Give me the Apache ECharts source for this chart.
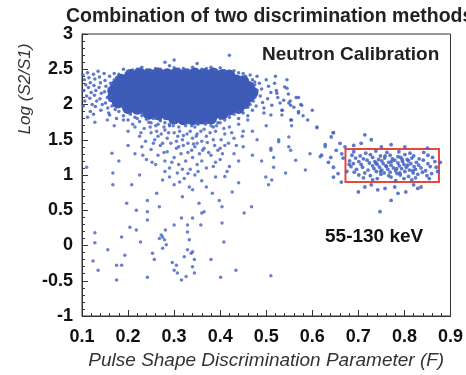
<!DOCTYPE html>
<html>
<head>
<meta charset="utf-8">
<script src="https://cdn.jsdelivr.net/npm/echarts@6/dist/echarts.min.js"></script>
<style>html,body{margin:0;padding:0;background:#fff}#c{width:466px;height:375px}</style>
</head>
<body>
<div id="c"></div>
<script>
const xTicks = [0.1,0.2,0.3,0.4,0.5,0.6,0.7,0.8,0.9];
const yTicks = [-1,-0.5,0,0.5,1,1.5,2,2.5,3];
const signalBox = [0.672, 0.9, 0.875, 1.37];

// dense electron-recoil core (solid region)
const coreCloud = [
[0.205,2.42],[0.225,2.44],[0.245,2.43],[0.265,2.44],[0.285,2.43],[0.305,2.44],[0.325,2.43],[0.345,2.44],[0.365,2.43],[0.385,2.44],[0.405,2.42],[0.42,2.41],
[0.185,2.35],[0.2,2.36],[0.215,2.35],[0.235,2.35],[0.255,2.36],[0.275,2.35],[0.295,2.35],[0.315,2.36],[0.335,2.35],[0.355,2.35],[0.375,2.36],[0.395,2.35],[0.415,2.35],[0.435,2.34],[0.45,2.33],
[0.175,2.27],[0.19,2.26],[0.21,2.26],[0.23,2.27],[0.25,2.26],[0.27,2.26],[0.29,2.27],[0.31,2.26],[0.33,2.26],[0.35,2.27],[0.37,2.26],[0.39,2.26],[0.41,2.27],[0.43,2.26],[0.45,2.26],[0.462,2.25],
[0.168,2.19],[0.18,2.18],[0.2,2.18],[0.22,2.19],[0.24,2.18],[0.26,2.18],[0.28,2.19],[0.3,2.18],[0.32,2.18],[0.34,2.19],[0.36,2.18],[0.38,2.18],[0.4,2.19],[0.42,2.18],[0.44,2.18],[0.458,2.18],[0.47,2.17],
[0.168,2.11],[0.185,2.1],[0.205,2.1],[0.225,2.11],[0.245,2.1],[0.265,2.1],[0.285,2.11],[0.305,2.1],[0.325,2.1],[0.345,2.11],[0.365,2.1],[0.385,2.1],[0.405,2.11],[0.425,2.1],[0.445,2.1],[0.462,2.11],
[0.178,2.03],[0.195,2.02],[0.215,2.02],[0.235,2.03],[0.255,2.02],[0.275,2.02],[0.295,2.03],[0.315,2.02],[0.335,2.02],[0.355,2.03],[0.375,2.02],[0.395,2.02],[0.415,2.03],[0.435,2.02],[0.452,2.02],
[0.2,1.95],[0.22,1.94],[0.24,1.94],[0.26,1.95],[0.28,1.94],[0.3,1.94],[0.32,1.95],[0.34,1.94],[0.36,1.94],[0.38,1.95],[0.4,1.94],[0.42,1.93],[0.44,1.95],
[0.245,1.87],[0.265,1.86],[0.285,1.86],[0.305,1.87],[0.325,1.86],[0.345,1.86],[0.365,1.87],[0.385,1.86],[0.405,1.87],
[0.3,1.8],[0.32,1.79],[0.34,1.79],[0.36,1.8],[0.38,1.8]
];

// sparse events around the core
const coreFringe = [
[0.102,2.42],[0.105,2.35],[0.108,2.28],[0.104,2.2],[0.11,2.12],[0.106,2.05],[0.112,2.45],[0.115,2.38],[0.118,2.31],[0.114,2.24],[0.12,2.17],[0.117,2.09],[0.122,2.0],
[0.125,2.43],[0.128,2.36],[0.126,2.27],[0.13,2.2],[0.127,2.13],[0.132,2.05],[0.129,1.97],[0.135,2.47],[0.138,2.39],[0.14,2.31],[0.137,2.24],[0.142,2.16],[0.139,2.08],
[0.144,2.0],[0.141,1.92],[0.148,2.44],[0.15,2.34],[0.152,2.26],[0.149,2.18],[0.155,2.1],[0.151,2.02],[0.156,1.95],[0.158,1.88],[0.16,2.4],[0.162,2.3],[0.159,2.22],
[0.163,2.14],[0.161,2.06],[0.165,1.98],[0.118,1.9],[0.112,1.82],[0.125,1.86],[0.103,1.98],[0.17,2.44],[0.175,2.38],[0.172,1.93],
[0.19,2.5],[0.23,2.53],[0.26,2.51],[0.29,2.55],[0.31,2.5],[0.34,2.53],[0.37,2.51],[0.4,2.52],[0.43,2.48],[0.28,2.6],[0.35,2.58],[0.45,2.44],[0.21,2.49],[0.33,2.49],
[0.3,2.63],[0.42,2.7],[0.25,2.48],[0.39,2.49],
[0.2,2.47],[0.22,2.5],[0.24,2.49],[0.27,2.5],[0.3,2.52],[0.32,2.51],[0.36,2.5],[0.38,2.53],[0.41,2.48],[0.44,2.45],[0.455,2.4],[0.18,2.43],[0.17,2.35],[0.165,2.28],
[0.19,1.96],[0.2,1.9],[0.23,1.88],[0.26,1.82],[0.28,1.8],[0.3,1.75],[0.33,1.74],[0.35,1.73],[0.37,1.74],[0.4,1.8],[0.42,1.86],[0.44,1.9],[0.46,1.96],[0.475,2.1],[0.48,2.2],[0.475,2.32],
[0.465,2.42],[0.47,2.35],[0.475,2.28],[0.472,2.05],[0.478,1.98],[0.48,2.4],[0.485,2.3],[0.49,2.22],[0.487,2.12],[0.492,2.03],[0.495,1.95],[0.5,2.35],[0.505,2.26],
[0.51,2.17],[0.503,2.08],[0.512,1.99],[0.518,2.3],[0.522,2.2],[0.525,2.1],[0.53,2.02],[0.535,1.92],[0.54,2.25],[0.548,2.15],[0.552,2.05],[0.56,1.96],[0.57,1.88],
[0.565,2.1],[0.58,1.84],[0.59,1.78],[0.61,1.68],[0.52,2.4],[0.545,2.35],[0.575,2.0],[0.6,1.92],[0.495,1.88],[0.51,1.85],[0.538,2.06],[0.553,1.99],[0.577,1.99],
[0.553,1.78],[0.57,1.9],[0.523,2.16],[0.545,2.23],[0.57,2.1],[0.549,2.02],[0.534,1.92],[0.555,1.78],
[0.16,1.85],[0.175,1.8],[0.18,1.9],[0.19,1.84],[0.2,1.78],[0.205,1.86],[0.215,1.82],[0.225,1.76],[0.23,1.84],[0.24,1.79],[0.25,1.74],[0.255,1.8],[0.265,1.72],
[0.27,1.77],[0.28,1.74],[0.29,1.7],[0.41,1.78],[0.42,1.82],[0.43,1.86],[0.44,1.8],[0.45,1.88],[0.46,1.84],[0.47,1.92],[0.395,1.74],[0.385,1.68],[0.455,1.96],[0.465,2.0]
];

// tail of events below the core
const tailEvents = [
[0.19,1.78],[0.21,1.72],[0.22,1.8],[0.235,1.66],[0.245,1.75],[0.25,1.6],[0.26,1.7],[0.265,1.55],[0.27,1.78],[0.28,1.64],[0.285,1.52],[0.29,1.72],[0.3,1.6],
[0.305,1.48],[0.31,1.68],[0.32,1.56],[0.325,1.7],[0.33,1.45],[0.335,1.62],[0.34,1.52],[0.345,1.68],[0.35,1.58],[0.36,1.48],[0.365,1.65],[0.37,1.55],[0.38,1.7],
[0.385,1.5],[0.39,1.62],[0.4,1.74],[0.41,1.58],[0.42,1.68],[0.43,1.52],[0.44,1.72],[0.45,1.62],[0.46,1.78],[0.2,1.62],[0.17,1.7],[0.155,1.78],[0.225,1.55],[0.275,1.45],
[0.215,1.68],[0.228,1.6],[0.238,1.48],[0.248,1.68],[0.258,1.5],[0.262,1.62],[0.272,1.58],[0.278,1.68],[0.288,1.6],[0.293,1.45],[0.298,1.7],[0.308,1.55],[0.312,1.62],
[0.318,1.5],[0.322,1.76],[0.328,1.58],[0.338,1.7],[0.342,1.44],[0.348,1.55],[0.352,1.72],[0.358,1.62],[0.362,1.35],[0.368,1.72],[0.372,1.46],[0.378,1.6],[0.388,1.42],
[0.392,1.7],[0.402,1.5],[0.408,1.66],[0.418,1.45],[0.425,1.6],[0.435,1.42],[0.448,1.55],[0.232,1.28],[0.252,1.18],[0.278,1.32],[0.295,1.18],[0.318,1.08],[0.338,1.35],
[0.352,1.05],[0.375,1.32],[0.385,1.12],[0.405,1.3],[0.415,1.05],[0.255,1.45],[0.31,1.4],[0.35,1.45],[0.4,1.38],
[0.2,1.42],[0.215,1.3],[0.23,1.4],[0.24,1.22],[0.25,1.36],[0.26,1.15],[0.265,1.28],[0.27,1.42],[0.28,1.2],[0.285,1.33],[0.29,1.1],[0.3,1.25],[0.305,1.38],[0.31,1.15],
[0.315,1.3],[0.32,1.42],[0.325,1.2],[0.33,1.32],[0.335,1.08],[0.34,1.25],[0.345,1.4],[0.35,1.15],[0.355,1.3],[0.36,1.2],[0.365,1.38],[0.37,1.1],[0.38,1.28],[0.39,1.18],
[0.395,1.35],[0.4,1.22],[0.41,1.42],[0.42,1.12],[0.43,1.3],[0.44,1.2],[0.45,1.4],[0.47,1.28],[0.165,1.31],[0.128,1.75],[0.11,1.11],[0.18,1.2],
[0.167,1.03],[0.167,0.86],[0.208,0.86],[0.225,1.0],[0.197,0.6],[0.242,0.64],[0.262,0.74],[0.268,0.55],[0.29,0.97],[0.3,0.86],[0.307,1.03],[0.318,0.69],[0.333,0.83],
[0.34,0.79],[0.354,0.6],[0.36,0.46],[0.37,0.83],[0.383,0.74],[0.39,0.97],[0.398,0.64],[0.404,0.55],[0.426,0.76],[0.44,0.89],[0.452,0.46],[0.468,0.55],[0.505,0.86],
[0.322,0.95],[0.345,1.0],[0.312,0.9],[0.36,0.92],[0.33,1.02],[0.275,0.93],[0.41,0.98],[0.28,1.05],
[0.128,0.18],[0.128,0.04],[0.156,-0.06],[0.124,-0.22],[0.135,-0.35],[0.175,-0.28],[0.186,-0.28],[0.175,-0.49],[0.193,-0.14],[0.186,0.12],[0.204,0.26],[0.218,0.22],
[0.227,0.05],[0.242,0.36],[0.242,-0.45],[0.253,-0.11],[0.257,-0.2],[0.268,0.1],[0.272,0.15],[0.275,0.12],[0.279,0.08],[0.283,0.01],[0.281,0.22],[0.275,-0.04],
[0.296,-0.24],[0.3,-0.35],[0.305,-0.28],[0.307,-0.39],[0.316,-0.49],[0.326,-0.44],[0.322,-0.16],[0.329,-0.06],[0.333,0.08],[0.337,-0.11],[0.34,-0.09],[0.344,-0.2],
[0.34,-0.3],[0.344,-0.39],[0.329,0.19],[0.34,0.39],[0.329,0.29],[0.3,0.29],[0.316,0.39],[0.358,0.29],[0.365,0.48],[0.38,-0.2],[0.401,-0.45],[0.404,0.32],[0.408,0.05],
[0.434,-0.35],[0.51,-0.43],[0.242,0.48],[0.218,0.5]
];

// events between the two populations
const gapEvents = [
[0.51,1.38],[0.527,1.47],[0.549,1.54],[0.564,1.21],[0.585,1.07],[0.61,1.67],[0.549,1.4],[0.516,1.11],[0.542,1.03],[0.499,0.97],[0.555,1.7],[0.534,1.85],
[0.51,1.35],[0.516,1.25],[0.527,1.5],[0.553,1.35],[0.512,0.93],[0.645,1.6],[0.617,1.26],[0.628,1.4],[0.48,1.5],[0.49,1.2],[0.47,1.62],[0.5,1.7],[0.595,1.3]
];

// neutron-calibration nuclear recoils
const neutronEvents = [
[0.628,1.43],[0.641,1.54],[0.62,1.28],[0.635,1.18],[0.646,1.11],[0.652,1.35],[0.656,1.02],[0.663,0.9],[0.66,1.45],[0.667,1.24],[0.646,0.97],[0.671,1.4],
[0.706,1.45],[0.728,1.5],[0.771,1.43],[0.801,1.4],[0.714,1.57],[0.646,1.6],[0.714,0.83],[0.742,0.79],[0.758,0.81],[0.771,0.64],[0.786,0.74],[0.803,0.76],
[0.829,0.81],[0.836,0.83],[0.728,0.86],[0.779,0.83],[0.7,0.76],[0.747,0.48],[0.68,1.15],[0.675,1.05],[0.664,1.3],[0.64,1.25],[0.85,1.38],[0.872,1.05],
[0.878,1.18],[0.69,1.42],[0.75,1.4],[0.82,0.86],
[0.69,1.33],[0.716,1.31],[0.738,1.34],[0.762,1.32],[0.788,1.33],[0.812,1.31],[0.842,1.32],
[0.686,1.28],[0.704,1.27],[0.726,1.29],[0.748,1.27],[0.769,1.28],[0.786,1.26],[0.801,1.29],[0.82,1.27],[0.851,1.28],
[0.694,1.24],[0.711,1.23],[0.731,1.25],[0.744,1.22],[0.757,1.24],[0.774,1.23],[0.792,1.25],[0.806,1.22],[0.816,1.24],[0.832,1.23],[0.861,1.25],
[0.681,1.2],[0.701,1.19],[0.719,1.21],[0.736,1.19],[0.751,1.2],[0.766,1.18],[0.779,1.21],[0.796,1.19],[0.809,1.2],[0.826,1.18],[0.841,1.21],[0.866,1.19],
[0.689,1.16],[0.706,1.15],[0.724,1.17],[0.741,1.15],[0.754,1.16],[0.771,1.14],[0.786,1.17],[0.799,1.15],[0.814,1.16],[0.831,1.14],[0.851,1.16],
[0.684,1.12],[0.709,1.11],[0.731,1.13],[0.746,1.11],[0.761,1.12],[0.776,1.1],[0.789,1.13],[0.804,1.11],[0.821,1.12],[0.836,1.1],[0.856,1.12],[0.869,1.11],
[0.696,1.08],[0.721,1.07],[0.734,1.09],[0.751,1.07],[0.764,1.08],[0.781,1.06],[0.794,1.09],[0.811,1.07],[0.824,1.08],[0.846,1.06],
[0.691,1.04],[0.714,1.03],[0.739,1.05],[0.756,1.03],[0.769,1.04],[0.784,1.02],[0.801,1.05],[0.819,1.03],[0.839,1.04],[0.859,1.02],
[0.701,1.0],[0.726,0.99],[0.749,1.01],[0.766,0.99],[0.791,1.0],[0.809,0.98],[0.829,1.01],[0.849,0.99],
[0.711,0.96],[0.741,0.95],[0.771,0.97],[0.799,0.95],[0.824,0.96],[0.854,0.95],
[0.731,0.93],[0.781,0.92],[0.816,0.93],
[0.76,1.13],[0.772,1.19],[0.783,1.09],[0.795,1.22],[0.807,1.14],[0.748,1.05],[0.738,1.17],[0.818,1.06],[0.758,1.27],[0.79,1.03]
];

const FONT = 'Liberation Sans, Arial, Helvetica, sans-serif';
const dotColor = '#4262c2';

const chart = echarts.init(document.getElementById('c'), null, {renderer: 'canvas'});
chart.setOption({
  animation: false,
  backgroundColor: '#fff',
  title: {
    text: 'Combination of two discrimination methods',
    left: 61, top: 2,
    textStyle: {fontFamily: FONT, fontSize: 19.5, fontWeight: 'bold', color: '#222'}
  },
  grid: {left: 82, right: 14, top: 34, bottom: 59, show: true, borderColor: '#333', borderWidth: 1, backgroundColor: 'transparent'},
  xAxis: {
    type: 'value', min: xTicks[0], max: xTicks[xTicks.length - 1], interval: 0.1,
    name: 'Pulse Shape Discrimination Parameter (F)', nameLocation: 'middle', nameGap: 31,
    nameTextStyle: {fontFamily: FONT, fontSize: 19, fontStyle: 'italic', color: '#333'},
    axisLine: {show: true, onZero: false, lineStyle: {color: '#333', width: 1}},
    axisTick: {show: true, inside: true, length: 6, lineStyle: {color: '#333'}},
    minorTick: {show: true, splitNumber: 5, length: 3, lineStyle: {color: '#333'}},
    splitLine: {show: false},
    axisLabel: {fontFamily: FONT, fontSize: 18, fontWeight: 'bold', color: '#111', margin: 12,
      formatter: v => v.toFixed(1)}
  },
  yAxis: {
    type: 'value', min: yTicks[0], max: yTicks[yTicks.length - 1], interval: 0.5,
    axisLine: {show: true, onZero: false, lineStyle: {color: '#333', width: 1}},
    axisTick: {show: true, inside: true, length: 6, lineStyle: {color: '#333'}},
    minorTick: {show: true, splitNumber: 5, length: 3, lineStyle: {color: '#333'}},
    splitLine: {show: false},
    axisLabel: {fontFamily: FONT, fontSize: 18, fontWeight: 'bold', color: '#111', margin: 9}
  },
  graphic: [
    {type: 'text', x: 25, y: 89, rotation: Math.PI / 2,
     style: {text: 'Log (S2/S1)', fontFamily: FONT, fontSize: 17, fontStyle: 'italic', fill: '#333', textAlign: 'center', textVerticalAlign: 'middle'}},
    {type: 'text', x: 262, y: 55,
     style: {text: 'Neutron Calibration', fontFamily: FONT, fontSize: 19, fontWeight: 'bold', fill: '#222', textAlign: 'left', textVerticalAlign: 'middle'}},
    {type: 'text', x: 325, y: 237,
     style: {text: '55-130 keV', fontFamily: FONT, fontSize: 19, fontWeight: 'bold', fill: '#111', textAlign: 'left', textVerticalAlign: 'middle'}}
  ],
  series: [
    {type: 'scatter', name: 'core', data: coreCloud, symbolSize: 12, itemStyle: {color: '#3c5ab6', opacity: 1}, silent: true},
    {type: 'scatter', name: 'fringe', data: coreFringe, symbolSize: 3.5, itemStyle: {color: dotColor, opacity: 0.85}, silent: true},
    {type: 'scatter', name: 'tail', data: tailEvents, symbolSize: 3.5, itemStyle: {color: dotColor, opacity: 0.8}, silent: true},
    {type: 'scatter', name: 'gap', data: gapEvents, symbolSize: 3.5, itemStyle: {color: dotColor, opacity: 0.8}, silent: true},
    {type: 'scatter', name: 'neutron', data: neutronEvents, symbolSize: 3.8, itemStyle: {color: dotColor, opacity: 0.85}, silent: true,
     markArea: {silent: true, itemStyle: {color: 'rgba(0,0,0,0)', borderColor: '#e8473e', borderWidth: 2},
       data: [[{coord: [signalBox[0], signalBox[3]]}, {coord: [signalBox[2], signalBox[1]]}]]}}
  ]
});
</script>
</body>
</html>
